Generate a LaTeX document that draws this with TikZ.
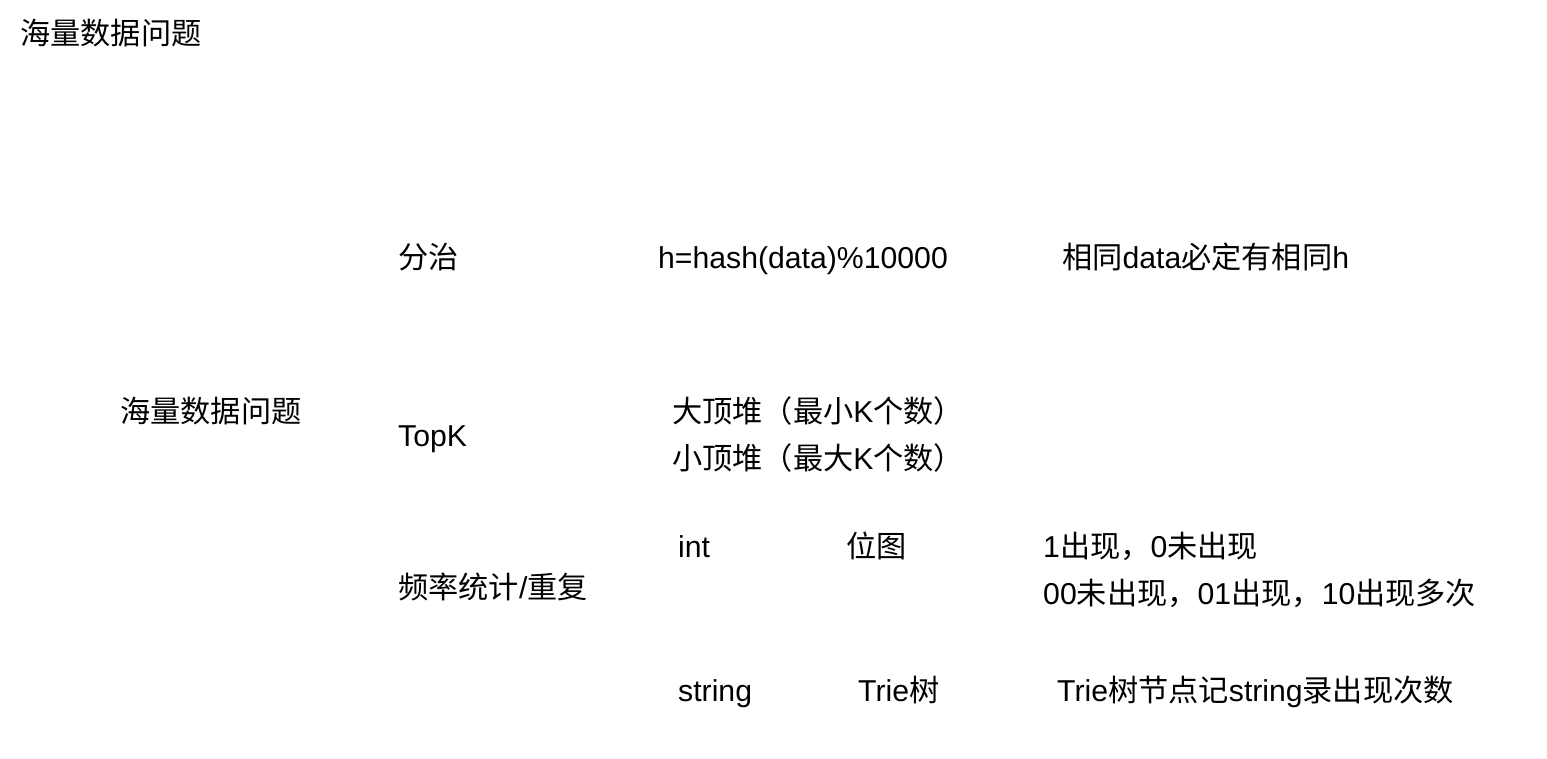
\documentclass[tikz,border=0pt]{standalone}
\usepackage{fontspec}
\setmainfont{Liberation Sans}
\newfontfamily\cjk{Noto Sans CJK SC}
\newcommand{\zh}[1]{{\cjk #1}}
\begin{document}
\begin{tikzpicture}[x=1pt,y=-1pt,
  lbl/.style={anchor=base west,inner sep=0pt,font=\fontsize{30.2}{35}\selectfont}]
  \useasboundingbox (0,0) rectangle (1547,758);
  % Title and root
  \node[lbl] (title) at (20,44) {\zh{海量数据问题}};
  \node[lbl] (root) at (120,422) {\zh{海量数据问题}};
  % Branches
  \node[lbl] (split) at (398,268) {\zh{分治}};
  \node[lbl] (topk) at (398,446) {TopK};
  \node[lbl] (freq) at (398,598) {\zh{频率统计}/\zh{重复}};
  % Divide and conquer
  \node[lbl] (hashfn) at (658,268) {h=hash(data)\%10000};
  \node[lbl] (samehash) at (1062,268) {\zh{相同}data\zh{必定有相同}h};
  % Heaps
  \node[lbl] (maxheap) at (672,422) {\zh{大顶堆（最小}K\zh{个数）}};
  \node[lbl] (minheap) at (672,469) {\zh{小顶堆（最大}K\zh{个数）}};
  % Frequency
  \node[lbl] (intkey) at (678,557) {int};
  \node[lbl] (bitmap) at (846,557) {\zh{位图}};
  \node[lbl] (bitone) at (1043,557) {1\zh{出现，}0\zh{未出现}};
  \node[lbl] (bittwo) at (1043,604) {00\zh{未出现，}01\zh{出现，}10\zh{出现多次}};
  \node[lbl] (strkey) at (678,701) {string};
  \node[lbl] (trie) at (858,701) {Trie\zh{树}};
  \node[lbl] (trienote) at (1057,701) {Trie\zh{树节点记}string\zh{录出现次数}};
\end{tikzpicture}
\end{document}
